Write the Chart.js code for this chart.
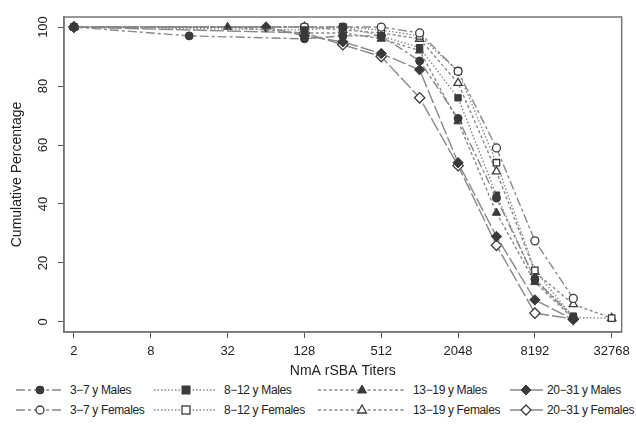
<!DOCTYPE html>
<html>
<head>
<meta charset="utf-8">
<script src="https://cdn.jsdelivr.net/npm/chart.js@4.4.1/dist/chart.umd.min.js"></script>
<style>
  html, body { margin: 0; padding: 0; background: #fff; }
  #wrap { position: relative; width: 636px; height: 431px; font-family: "Liberation Sans", Arial, sans-serif; }
  #chart { position: absolute; left: 0; top: 0; }
  .key { position: absolute; height: 16px; }
  .key svg { position: absolute; top: 0; }
  .key span { position: absolute; top: 0; line-height: 16px; font-size: 12px; letter-spacing: -0.35px; color: #222; white-space: nowrap; }
</style>
</head>
<body>
<div id="wrap">
  <canvas id="chart" width="636" height="382"></canvas>
  <div id="legend"></div>
</div>
<script>
// Curvas acumuladas inversas de títulos rSBA por grupo de edad y sexo

const titers = [2, 16, 32, 64, 128, 256, 512, 1024, 2048, 4096, 8192, 16384, 32768];
const xTicks = [2, 8, 32, 128, 512, 2048, 8192, 32768];
const yTicks = [0, 20, 40, 60, 80, 100];

// null = sin punto en ese título
const males3to7    = [100, 97, null, null, 96, 97, 97, 88.5, 69, 42, 14.5, 1.5, null];
const females3to7  = [100, null, null, null, 100, 100, 100, 98, 85, 59, 27.5, 8, null];
const males8to12   = [100, null, null, null, 99, 100, 97, 93, 76, 43, 14.5, 2, null];
const females8to12 = [100, null, null, null, 100, 100, 99, 97, 85, 54, 17.5, 1.5, 1.3];
const males13to19  = [100, null, 100, null, 98, 98, 96, 92, 68, 37, 13.5, 1.2, null];
const females13to19 = [100, null, null, null, 100, 99, 98, 96, 81, 51, 17, 6, 1.3];
const males20to31  = [100, null, null, 100, 97, 95, 91, 85.5, 54, 29, 7.5, 0.8, null];
const females20to31 = [100, null, null, null, 98, 94, 90, 76, 53, 26, 3, 1, null];

const LINE = '#888';
const MARK = '#3a3a3a';

const series = [
  { label: '3\u22127 y Males',     values: males3to7,     style: 'circle',   open: false, dash: [9, 3, 3, 3] },
  { label: '8\u221212 y Males',    values: males8to12,    style: 'rect',     open: false, dash: [1.5, 2] },
  { label: '13\u221219 y Males',   values: males13to19,   style: 'triangle', open: false, dash: [3, 2.5] },
  { label: '20\u221231 y Males',   values: males20to31,   style: 'rectRot',  open: false, dash: [14, 3] },
  { label: '3\u22127 y Females',   values: females3to7,   style: 'circle',   open: true,  dash: [9, 3, 3, 3] },
  { label: '8\u221212 y Females',  values: females8to12,  style: 'rect',     open: true,  dash: [1.5, 2] },
  { label: '13\u221219 y Females', values: females13to19, style: 'triangle', open: true,  dash: [3, 2.5] },
  { label: '20\u221231 y Females', values: females20to31, style: 'rectRot',  open: true,  dash: [14, 3] },
];

const radius = { circle: 4, rect: 4.5, triangle: 4.8, rectRot: 5.2 };

const datasets = series.map(s => ({
  label: s.label,
  data: titers.map((t, i) => ({ x: t, y: s.values[i] })).filter(p => p.y !== null),
  borderColor: LINE,
  borderWidth: 1.4,
  borderDash: s.dash,
  tension: 0,
  pointStyle: s.style,
  pointRadius: radius[s.style],
  pointBackgroundColor: s.open ? '#fff' : MARK,
  pointBorderColor: MARK,
  pointBorderWidth: s.open ? 1.3 : 1,
  fill: false,
}));

// marco gris alrededor del área de trazado
const framePlugin = {
  id: 'frame',
  afterDraw(chart) {
    const { ctx, chartArea: a } = chart;
    ctx.save();
    ctx.strokeStyle = '#777';
    ctx.lineWidth = 1.5;
    ctx.strokeRect(a.left, a.top, a.right - a.left, a.bottom - a.top);
    ctx.restore();
  }
};

const font = { family: '"Liberation Sans", Arial, sans-serif', size: 13 };
const titleFont = { family: '"Liberation Sans", Arial, sans-serif', size: 14 };

new Chart(document.getElementById('chart').getContext('2d'), {
  type: 'line',
  data: { datasets },
  options: {
    responsive: false,
    animation: false,
    devicePixelRatio: 1,
    layout: { padding: { top: 17, right: 13, left: 0, bottom: 0 } },
    plugins: { legend: { display: false }, tooltip: { enabled: false } },
    scales: {
      x: {
        type: 'logarithmic',
        min: Math.pow(2, 0.74),
        max: Math.pow(2, 15.26),
        afterBuildTicks: s => { s.ticks = xTicks.map(v => ({ value: v })); },
        afterFit: s => { s.height = 50; },
        ticks: { callback: v => String(v), color: '#222', font, maxRotation: 0, autoSkip: false, padding: 6 },
        grid: { drawOnChartArea: false, tickLength: 6, color: '#555' },
        border: { color: '#777', width: 1.5 },
        title: { display: true, text: 'NmA rSBA Titers', color: '#222', font: titleFont, padding: { top: 0, bottom: 2 } },
      },
      y: {
        min: -3.4,
        max: 103.4,
        afterBuildTicks: s => { s.ticks = yTicks.map(v => ({ value: v })); },
        afterFit: s => { s.width = 64; },
        ticks: { color: '#222', font, minRotation: 90, maxRotation: 90, crossAlign: 'center', padding: 4 },
        grid: { drawOnChartArea: false, tickLength: 6, color: '#555' },
        border: { color: '#777', width: 1.5 },
        title: { display: true, text: 'Cumulative Percentage', color: '#222', font: titleFont, padding: { top: 9, bottom: 0 } },
      },
    },
  },
  plugins: [framePlugin],
});

// Leyenda en dos filas, columnas alineadas como en la figura
const keyCols = [
  { x0: 16, x1: 64, mx: 40, tx: 70 },
  { x0: 154, x1: 217, mx: 186, tx: 224 },
  { x0: 318, x1: 406, mx: 362, tx: 413 },
  { x0: 510, x1: 543, mx: 526, tx: 547 },
];
const keyRows = [382, 402];

function markerSvg(style, open, cx, cy) {
  const fill = open ? '#fff' : MARK;
  const sw = open ? 1.3 : 1;
  const attrs = `fill="${fill}" stroke="${MARK}" stroke-width="${sw}"`;
  if (style === 'circle') return `<circle cx="${cx}" cy="${cy}" r="4" ${attrs}/>`;
  if (style === 'rect') return `<rect x="${cx - 4}" y="${cy - 4}" width="8" height="8" ${attrs}/>`;
  if (style === 'triangle') return `<polygon points="${cx},${cy - 5} ${cx + 4.5},${cy + 3} ${cx - 4.5},${cy + 3}" ${attrs}/>`;
  return `<polygon points="${cx},${cy - 5} ${cx + 5},${cy} ${cx},${cy + 5} ${cx - 5},${cy}" ${attrs}/>`;
}

const legend = document.getElementById('legend');
legend.innerHTML = series.map((s, i) => {
  const p = keyCols[i % 4];
  const top = keyRows[Math.floor(i / 4)];
  const w = p.x1 - p.x0;
  const dash = s.style === 'rectRot' ? 'none' : s.dash.join(' ');
  return `
    <div class="key" style="left:0;top:${top}px;width:636px">
      <svg style="left:${p.x0}px" width="${w}" height="16">
        <line x1="0" y1="8" x2="${w}" y2="8" stroke="${LINE}" stroke-width="1.4" stroke-dasharray="${dash}"/>
        ${markerSvg(s.style, s.open, p.mx - p.x0, 8)}
      </svg>
      <span style="left:${p.tx}px">${s.label}</span>
    </div>`;
}).join('');
</script>
</body>
</html>
